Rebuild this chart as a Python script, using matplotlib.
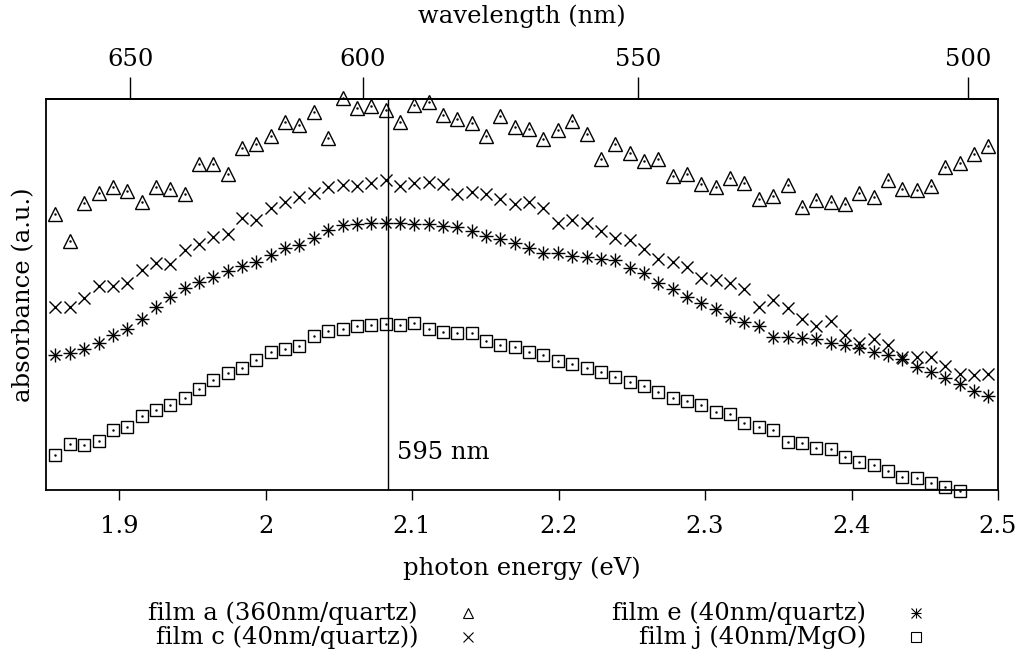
import numpy as np
import matplotlib
matplotlib.use("Agg")
import matplotlib.pyplot as plt
from matplotlib.lines import Line2D

plt.rcParams['font.family'] = 'DejaVu Serif'
plt.rcParams['font.size'] = 17.5

# photon energy grid (eV)
energy = np.round(1.8565 + 0.0098 * np.arange(66), 4)

# absorbance (arbitrary units)
film_a = [2.757, 2.49, 2.867, 2.967, 3.027, 2.993, 2.877, 3.033, 3.01, 2.957,
          3.257, 3.257, 3.16, 3.417, 3.46, 3.543, 3.683, 3.65, 3.777, 3.517,
          3.923, 3.82, 3.84, 3.80, 3.683, 3.85, 3.877, 3.753, 3.707, 3.667,
          3.54, 3.737, 3.627, 3.613, 3.507, 3.597, 3.687, 3.56, 3.31, 3.457,
          3.367, 3.293, 3.31, 3.143, 3.157, 3.06, 3.033, 3.117, 3.067, 2.91,
          2.943, 3.05, 2.833, 2.90, 2.883, 2.857, 2.967, 2.927, 3.10, 3.01,
          3.00, 3.043, 3.227, 3.273, 3.36, 3.443]
film_c = [1.833, 1.827, 1.923, 2.04, 2.04, 2.067, 2.20, 2.267, 2.26, 2.40,
          2.46, 2.533, 2.56, 2.717, 2.70, 2.817, 2.883, 2.933, 2.967, 3.033,
          3.05, 3.04, 3.067, 3.10, 3.043, 3.067, 3.083, 3.06, 2.96, 2.983,
          2.96, 2.907, 2.857, 2.877, 2.823, 2.67, 2.703, 2.67, 2.593, 2.52,
          2.50, 2.41, 2.31, 2.283, 2.233, 2.12, 2.10, 2.067, 2.007, 1.833,
          1.90, 1.817, 1.707, 1.64, 1.693, 1.55, 1.473, 1.507, 1.45, 1.327,
          1.327, 1.327, 1.243, 1.16, 1.15, 1.16]
film_e = [1.35, 1.373, 1.407, 1.467, 1.55, 1.61, 1.707, 1.827, 1.927, 2.017,
          2.083, 2.133, 2.193, 2.24, 2.283, 2.35, 2.417, 2.45, 2.517, 2.60,
          2.65, 2.66, 2.667, 2.673, 2.673, 2.66, 2.66, 2.64, 2.633, 2.593,
          2.54, 2.507, 2.467, 2.417, 2.373, 2.367, 2.34, 2.333, 2.307, 2.30,
          2.217, 2.173, 2.073, 2.007, 1.927, 1.873, 1.81, 1.733, 1.683, 1.643,
          1.533, 1.533, 1.523, 1.51, 1.473, 1.45, 1.423, 1.377, 1.35, 1.307,
          1.227, 1.183, 1.117, 1.06, 0.99, 0.943]
film_j = [0.347, 0.463, 0.45, 0.49, 0.60, 0.633, 0.74, 0.803, 0.853, 0.923,
          1.01, 1.10, 1.173, 1.22, 1.30, 1.383, 1.407, 1.44, 1.54, 1.587,
          1.613, 1.64, 1.65, 1.66, 1.65, 1.673, 1.607, 1.583, 1.573, 1.567,
          1.49, 1.45, 1.433, 1.377, 1.35, 1.29, 1.257, 1.223, 1.183, 1.133,
          1.077, 1.043, 0.983, 0.923, 0.893, 0.85, 0.777, 0.757, 0.667, 0.633,
          0.60, 0.483, 0.473, 0.417, 0.41, 0.333, 0.283, 0.25, 0.19, 0.127,
          0.117, 0.073, 0.033, -0.007]

labels = ['film a (360nm/quartz)', 'film c (40nm/quartz))',
          'film e (40nm/quartz)', 'film j (40nm/MgO)']
marker_wl = 595
hc = 1239.84

fig = plt.figure(figsize=(10.28, 6.62), dpi=100)
ax = fig.add_axes([0.0447, 0.2598, 0.9261, 0.5906])

kw = dict(ls='none', color='k', mfc='none', clip_on=False)
ax.plot(energy, film_a, marker='^', ms=9.5, mew=1, **kw)
ax.plot(energy, film_c, marker='x', ms=8.5, mew=1, **kw)
ax.plot(energy, film_e, marker='+', ms=9.5, mew=1, **kw)
ax.plot(energy, film_e, marker='x', ms=7.5, mew=1, **kw)
ax.plot(energy[:len(film_j)], film_j, marker='s', ms=8, mew=1, **kw)
# tiny centre dots
ax.plot(energy, film_a, marker='.', ms=1.5, **kw)
ax.plot(energy[:len(film_j)], film_j, marker='.', ms=1.5, **kw)

ax.axvline(hc / marker_wl, color='k', lw=1)
ax.text(hc / marker_wl + 0.006, 0.38, f'{marker_wl} nm', ha='left', va='center')

ax.set_xlim(1.85, 2.5)
ax.set_ylim(0, 3.91)
ax.set_yticks([])
ax.set_xticks([1.9, 2.0, 2.1, 2.2, 2.3, 2.4, 2.5])
ax.set_xticklabels(['1.9', '2', '2.1', '2.2', '2.3', '2.4', '2.5'])
ax.tick_params(axis='x', direction='out', length=7, width=1, pad=11)
for s in ax.spines.values():
    s.set_linewidth(1.3)
ax.set_xlabel('photon energy (eV)', labelpad=13)
ax.set_ylabel('absorbance (a.u.)', labelpad=8)


def e_to_wl(e):
    e = np.asarray(e, dtype=float)
    with np.errstate(divide='ignore'):
        return hc / e


sec = ax.secondary_xaxis('top', functions=(e_to_wl, e_to_wl))
sec.set_xticks([650, 600, 550, 500])
sec.tick_params(direction='out', length=16, width=1, pad=4)
sec.spines['top'].set_linewidth(1.3)
sec.set_xlabel('wavelength (nm)', labelpad=18)

# legend drawn by hand: text right-aligned, marker to its right
W, H = 1028, 662
rows = [613, 637]
text_x = [418, 866]
mark_x = [468, 916]
leg = [(0, 0, labels[0], ['^']), (1, 0, labels[1], ['x']),
       (0, 1, labels[2], ['+', 'x']), (1, 1, labels[3], ['s'])]
for r, c, lab, mks in leg:
    y = 1 - rows[r] / H
    fig.text(text_x[c] / W, y, lab, ha='right', va='center')
    for m in mks:
        fig.add_artist(Line2D([mark_x[c] / W], [y], transform=fig.transFigure,
                              marker=m, ms=6.5, mfc='none', mec='k', mew=0.8,
                              ls='none'))

fig.savefig('out.png', dpi=100)
